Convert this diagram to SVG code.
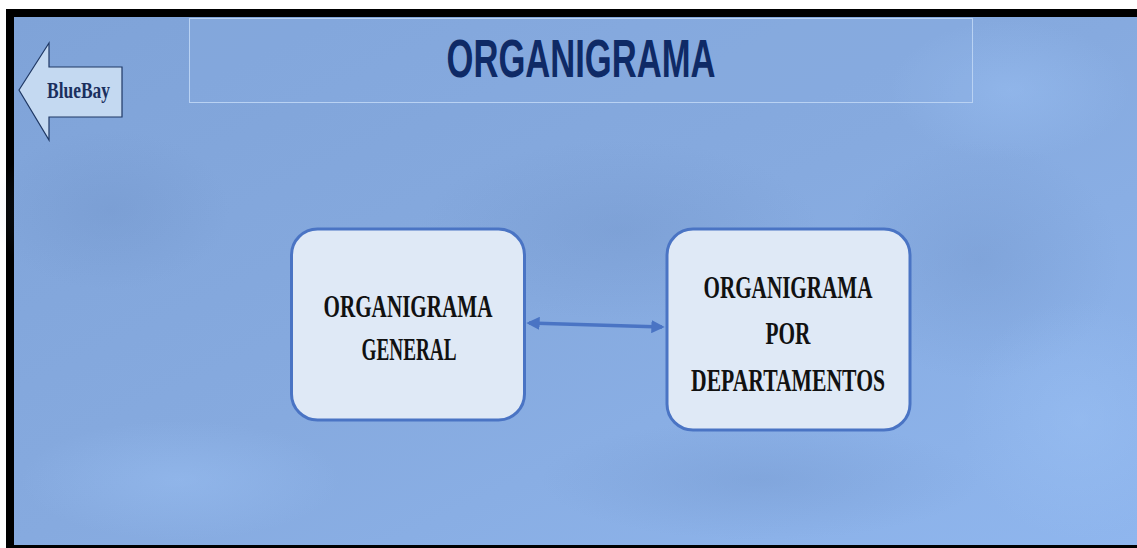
<svg xmlns="http://www.w3.org/2000/svg" width="1137" height="548" viewBox="0 0 1137 548">
<style>
.node rect{fill:#dfe9f6;stroke:#4a74c4;stroke-width:3}
.lbl{font-family:"Liberation Serif","Times New Roman",serif;font-size:32px;font-weight:bold;fill:#111111;text-anchor:middle}
.conn{stroke:#4a74c4;stroke-width:3.5;fill:none}
</style>
<defs>
<linearGradient id="bg" x1="0" y1="0" x2="1" y2="1">
<stop offset="0" stop-color="#7fa3d8"/>
<stop offset="0.5" stop-color="#86aadf"/>
<stop offset="1" stop-color="#8fb6ee"/>
</linearGradient>
<radialGradient id="c1" cx="0.5" cy="0.5" r="0.5">
<stop offset="0" stop-color="#6f92c8" stop-opacity="0.35"/>
<stop offset="1" stop-color="#6f92c8" stop-opacity="0"/>
</radialGradient>
<radialGradient id="c2" cx="0.5" cy="0.5" r="0.5">
<stop offset="0" stop-color="#9cc2f5" stop-opacity="0.45"/>
<stop offset="1" stop-color="#9cc2f5" stop-opacity="0"/>
</radialGradient>
<marker id="ah" viewBox="0 0 10 10" refX="8" refY="5" markerWidth="3.8" markerHeight="3.8" orient="auto-start-reverse">
<path d="M0,0 L10,5 L0,10 z" fill="#4a74c4"/>
</marker>
</defs>
<rect x="0" y="0" width="1137" height="548" fill="#ffffff"/>
<rect x="6" y="9" width="1131" height="539" fill="#000000"/>
<rect x="14" y="17" width="1123" height="528" fill="url(#bg)"/>
<ellipse cx="110" cy="210" rx="120" ry="80" fill="url(#c1)"/>
<ellipse cx="620" cy="230" rx="200" ry="90" fill="url(#c1)"/>
<ellipse cx="980" cy="260" rx="140" ry="120" fill="url(#c1)"/>
<ellipse cx="760" cy="480" rx="220" ry="60" fill="url(#c1)"/>
<ellipse cx="1080" cy="420" rx="120" ry="120" fill="url(#c2)"/>
<ellipse cx="180" cy="480" rx="160" ry="60" fill="url(#c2)"/>
<ellipse cx="1010" cy="90" rx="120" ry="70" fill="url(#c2)"/>

<g id="title">
<rect x="189.5" y="18.5" width="783" height="84" fill="#8db0e3" fill-opacity="0.25" stroke="#b9d2f3" stroke-width="1"/>
<text x="581" y="77" font-family="'Liberation Sans',Arial,sans-serif" font-weight="bold" font-size="54" fill="#0f2a66" text-anchor="middle" textLength="269" lengthAdjust="spacingAndGlyphs">ORGANIGRAMA</text>
</g>

<g id="bluebay">
<polygon points="19,90 49,43 49,67 122,67 122,117 49,117 49,140" fill="#c4d9f1" stroke="#1f3864" stroke-width="1.2"/>
<text x="78.5" y="98" font-family="'Liberation Serif','Times New Roman',serif" font-weight="bold" font-size="24" fill="#1a2f5e" text-anchor="middle" textLength="63" lengthAdjust="spacingAndGlyphs">BlueBay</text>
</g>

<g id="connectors">
<line class="conn" x1="529" y1="323" x2="662" y2="327" marker-start="url(#ah)" marker-end="url(#ah)"/>
</g>

<g id="node-general" class="node">
<rect x="291.5" y="229" width="233" height="191" rx="26" ry="26"/>
<text class="lbl" x="408" y="317" textLength="169" lengthAdjust="spacingAndGlyphs">ORGANIGRAMA</text>
<text class="lbl" x="409" y="360" textLength="95" lengthAdjust="spacingAndGlyphs">GENERAL</text>
</g>

<g id="node-departamentos" class="node">
<rect x="667" y="229" width="243" height="201" rx="26" ry="26"/>
<text class="lbl" x="788" y="298" textLength="169" lengthAdjust="spacingAndGlyphs">ORGANIGRAMA</text>
<text class="lbl" x="788" y="344" textLength="45" lengthAdjust="spacingAndGlyphs">POR</text>
<text class="lbl" x="788" y="391" textLength="194" lengthAdjust="spacingAndGlyphs">DEPARTAMENTOS</text>
</g>
</svg>
